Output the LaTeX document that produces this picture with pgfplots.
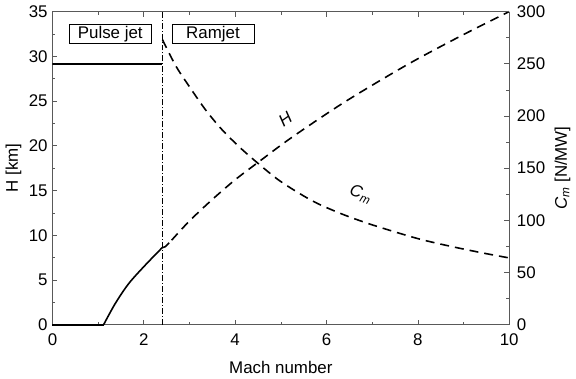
\documentclass[border=0pt]{standalone}
\usepackage{pgfplots}
\pgfplotsset{compat=1.18}
\usepackage{fontspec}
\setmainfont{Liberation Sans}
\begin{document}
\fontsize{17}{19}\selectfont
\begin{tikzpicture}
\pgfplotsset{
  every axis/.append style={
    /pgf/number format/assume math mode=true,
    scale only axis, width=458bp, height=314bp,
    xmin=0, xmax=10,
    tick align=inside,
    major tick length=5bp, minor tick length=3bp,
    axis line style={draw=black!65, line width=0.7pt},
    every tick/.style={draw=black!65, line width=0.6pt},
    tick label style={font=\fontsize{17}{19}\selectfont},
    label style={font=\fontsize{17}{19}\selectfont},
  }
}
\begin{axis}[
  axis y line*=left, axis x line*=box,
  ymin=0, ymax=35,
  xtick={0,2,4,6,8,10}, minor xtick={1,3,5,7,9},
  ytick={0,5,...,35}, minor ytick={2.5,7.5,...,32.5},
  xlabel={Mach number}, ylabel={H [km]},
  xticklabel style={yshift=-3bp},
  yticklabel style={xshift=1bp},
  xlabel style={yshift=-4bp},
  ylabel style={yshift=-4bp},
  clip=false,
]
\addplot[black, line width=1.6pt] coordinates {(0,0) (1.12,0)};
\addplot[black, line width=1.6pt, smooth, tension=0.5] coordinates {(1.12,0) (1.375,2.37) (1.67,4.6) (2.03,6.65) (2.4,8.6)};
\addplot[black, line width=1.6pt, dash pattern=on 9bp off 6bp] coordinates {(2.4,8.6) (2.47,8.72) (2.61,9.45)};
\addplot[black, line width=1.6pt, dash pattern=on 9bp off 6bp, smooth, tension=0.5] coordinates {(2.61,9.45) (3.0,11.6) (3.5,14.0) (4.0,16.2) (4.49,18.1) (5.23,20.9) (6.4,24.9) (7.78,29.1) (8.95,32.3) (10,35)};
\addplot[black, line width=0.5pt, dash pattern=on 6bp off 2bp on 1bp off 2bp] coordinates {(2.4,0) (2.4,35)};
\node[draw=black, line width=0.7pt, minimum width=82bp, minimum height=19bp, inner sep=1bp] at (axis cs:1.266,32.5) {Pulse jet};
\node[draw=black, line width=0.7pt, minimum width=82bp, minimum height=19bp, inner sep=1bp] at (axis cs:3.515,32.5) {Ramjet};
\node[rotate=35] at (axis cs:5.1,23.0) {\itshape H};
\node[rotate=-20, inner sep=1bp] at (axis cs:6.75,14.6) {\itshape C\textsubscript{m}};
\end{axis}
\begin{axis}[
  axis y line*=right, axis x line=none,
  ymin=0, ymax=300,
  ytick={0,50,...,300}, minor ytick={25,75,...,275},
  yticklabel style={xshift=2bp},
  ylabel={\textit{C\textsubscript{m}} [N/MW]},
  ylabel style={yshift=2bp},
]
\addplot[black, line width=1.6pt] coordinates {(0,250) (2.4,250)};
\addplot[black, line width=1.6pt, dash pattern=on 9bp off 6bp, smooth, tension=0.5] coordinates {(2.41,273) (2.7,248) (3.0,228) (3.35,206) (3.71,187) (4.1,170) (4.49,155) (4.94,139) (5.4,126) (5.81,116) (6.4,105) (7.05,95) (8.0,82.5) (8.73,75) (9.45,68.5) (10,64)};
\end{axis}
\end{tikzpicture}
\end{document}
